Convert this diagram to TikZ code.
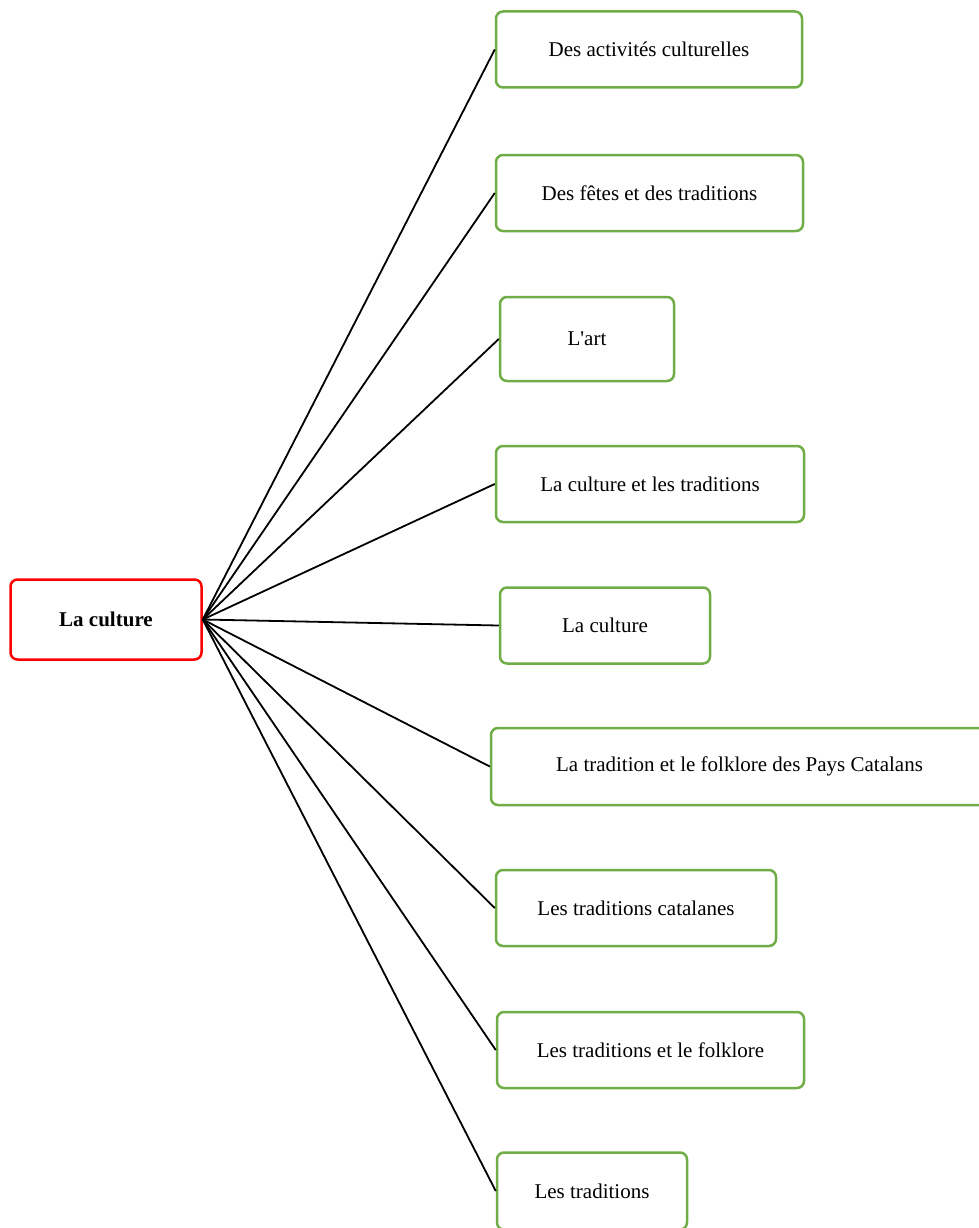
\documentclass[tikz,border=0pt]{standalone}
\usepackage{fontspec}
\setmainfont{Liberation Serif}
\definecolor{boxgreen}{RGB}{112,173,71}
\tikzset{
  topic/.style={draw=boxgreen,line width=2.5pt,rounded corners=7pt,fill=white,
    minimum height=76pt,inner sep=0pt,font=\fontsize{21}{24}\selectfont},
  root/.style={draw=red,line width=2.5pt,rounded corners=7pt,fill=white,
    minimum width=191pt,minimum height=80pt,inner sep=0pt,
    font=\fontsize{21}{24}\selectfont\bfseries},
  link/.style={line width=1.8pt,black}
}
\begin{document}
\begin{tikzpicture}[x=1pt,y=-1pt]
\useasboundingbox (0,0) rectangle (979,1228);
% centre
\node[root] (lc) at (106,619.5) {La culture};
% branches
\node[topic,minimum width=306pt] (a) at (649,49.5) {Des activités culturelles};
\node[topic,minimum width=307pt] (b) at (649.5,193) {Des fêtes et des traditions};
\node[topic,minimum width=174pt,minimum height=84pt] (c) at (587,339) {L\textquotesingle art};
\node[topic,minimum width=308pt] (d) at (650,484) {La culture et les traditions};
\node[topic,minimum width=210pt] (e) at (605,625.5) {La culture};
\node[topic,minimum width=497pt,minimum height=77pt] (f) at (739.5,766.5) {La tradition et le folklore des Pays Catalans};
\node[topic,minimum width=280pt] (g) at (636,908) {Les traditions catalanes};
\node[topic,minimum width=307pt] (h) at (650.5,1050) {Les traditions et le folklore};
\node[topic,minimum width=190pt,minimum height=77pt] (i) at (592,1191) {Les traditions};
% liens
\foreach \n in {a,b,c,d,e,f,g,h,i} { \draw[link] (lc.east) -- (\n.west); }
\end{tikzpicture}
\end{document}
